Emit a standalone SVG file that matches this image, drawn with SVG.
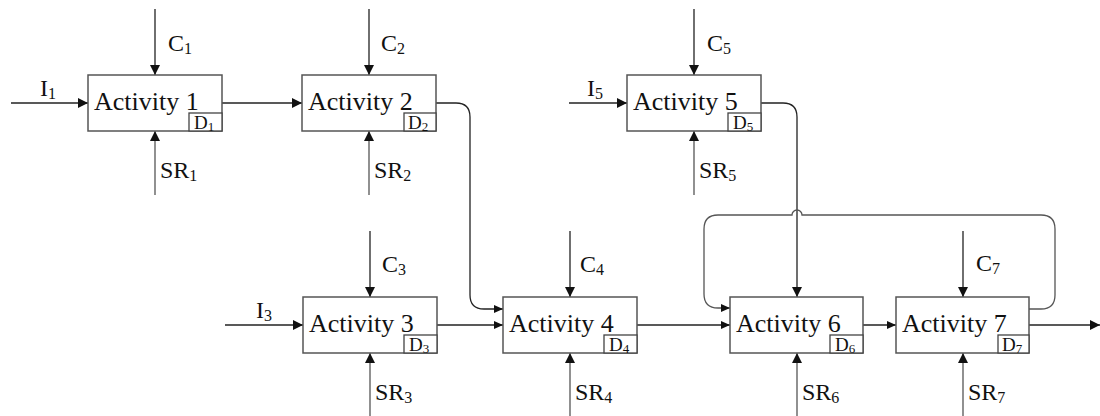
<svg xmlns="http://www.w3.org/2000/svg" width="1100" height="416" viewBox="0 0 1100 416">
<style>
.box{fill:#fff;stroke:#555;stroke-width:1.5}
.dbox{fill:#fff;stroke:#444;stroke-width:1.3}
.ln{fill:none;stroke:#222;stroke-width:1.3}
.lg{fill:none;stroke:#555;stroke-width:1.3}
.act{font-family:"Liberation Serif","Times New Roman",serif;font-size:26px;fill:#111}
.lbl{font-family:"Liberation Serif","Times New Roman",serif;font-size:24px;fill:#111}
.dl{font-family:"Liberation Serif","Times New Roman",serif;font-size:19px;fill:#111}
.sub{font-size:16px}
.dsub{font-size:13px}
</style>
<defs>
<marker id="arr" markerUnits="userSpaceOnUse" markerWidth="10" markerHeight="10" refX="10" refY="5" orient="auto">
<path d="M0,0 L10,5 L0,10 z" fill="#111"/>
</marker>
<marker id="arrS" markerUnits="userSpaceOnUse" markerWidth="9" markerHeight="8" refX="9" refY="4" orient="auto">
<path d="M0,0 L9,4 L0,8 z" fill="#111"/>
</marker>
</defs>

<g id="connectors">
<path class="ln" d="M11,103 H88" marker-end="url(#arr)"/>
<path class="ln" d="M225,325 H303" marker-end="url(#arr)"/>
<path class="ln" d="M569,103 H627" marker-end="url(#arr)"/>
<path class="ln" d="M222,103 H302" marker-end="url(#arr)"/>
<path class="ln" d="M436,103 H456 Q470,103 470,117 V295 Q470,309 484,309 H503" marker-end="url(#arrS)"/>
<path class="ln" d="M437,325 H503" marker-end="url(#arrS)"/>
<path class="ln" d="M637,325 H730" marker-end="url(#arrS)"/>
<path class="ln" d="M863,325 H896" marker-end="url(#arrS)"/>
<path class="ln" d="M1029,325 H1100" marker-end="url(#arr)"/>
<path class="ln" d="M761,103 H783 Q797,103 797,117 V297" marker-end="url(#arr)"/>
<path class="lg" d="M1029,309 H1041 Q1055,309 1055,295 V229 Q1055,215 1041,215 H802 A5,5 0 0 0 792,215 H718 Q704,215 704,229 V294 Q704,308 718,308 H730" marker-end="url(#arrS)"/>
<path class="ln" d="M155,9 V75" marker-end="url(#arr)"/>
<path class="ln" d="M369,9 V75" marker-end="url(#arr)"/>
<path class="ln" d="M694,9 V75" marker-end="url(#arr)"/>
<path class="ln" d="M370,231 V297" marker-end="url(#arr)"/>
<path class="ln" d="M570,231 V297" marker-end="url(#arr)"/>
<path class="ln" d="M963,231 V297" marker-end="url(#arr)"/>
<path class="lg" d="M155,195 V131" marker-end="url(#arr)"/>
<path class="lg" d="M369,195 V131" marker-end="url(#arr)"/>
<path class="lg" d="M694,195 V131" marker-end="url(#arr)"/>
<path class="lg" d="M370,416 V353" marker-end="url(#arr)"/>
<path class="lg" d="M570,416 V353" marker-end="url(#arr)"/>
<path class="lg" d="M797,416 V353" marker-end="url(#arr)"/>
<path class="lg" d="M963,416 V353" marker-end="url(#arr)"/>
</g>

<g id="labels">
<text class="lbl" x="40" y="96">I<tspan class="sub" dy="3">1</tspan></text>
<text class="lbl" x="256" y="318">I<tspan class="sub" dy="3">3</tspan></text>
<text class="lbl" x="587" y="96">I<tspan class="sub" dy="3">5</tspan></text>
<text class="lbl" x="168" y="51">C<tspan class="sub" dy="3">1</tspan></text>
<text class="lbl" x="381" y="51">C<tspan class="sub" dy="3">2</tspan></text>
<text class="lbl" x="707" y="51">C<tspan class="sub" dy="3">5</tspan></text>
<text class="lbl" x="382" y="272">C<tspan class="sub" dy="3">3</tspan></text>
<text class="lbl" x="580" y="272">C<tspan class="sub" dy="3">4</tspan></text>
<text class="lbl" x="976" y="271">C<tspan class="sub" dy="3">7</tspan></text>
<text class="lbl" x="160" y="178">SR<tspan class="sub" dy="3">1</tspan></text>
<text class="lbl" x="374" y="178">SR<tspan class="sub" dy="3">2</tspan></text>
<text class="lbl" x="699" y="178">SR<tspan class="sub" dy="3">5</tspan></text>
<text class="lbl" x="375" y="400">SR<tspan class="sub" dy="3">3</tspan></text>
<text class="lbl" x="575" y="400">SR<tspan class="sub" dy="3">4</tspan></text>
<text class="lbl" x="802" y="400">SR<tspan class="sub" dy="3">6</tspan></text>
<text class="lbl" x="968" y="400">SR<tspan class="sub" dy="3">7</tspan></text>
</g>

<g id="activity1">
<rect class="box" x="88" y="75" width="134" height="56"/>
<rect class="dbox" x="189" y="113" width="33" height="18"/>
<text class="act" x="94" y="110">Activity 1</text>
<text class="dl" x="194" y="129">D<tspan class="dsub" dy="2">1</tspan></text>
</g>
<g id="activity2">
<rect class="box" x="302" y="75" width="134" height="56"/>
<rect class="dbox" x="404" y="113" width="32" height="18"/>
<text class="act" x="308" y="110">Activity 2</text>
<text class="dl" x="408" y="129">D<tspan class="dsub" dy="2">2</tspan></text>
</g>
<g id="activity5">
<rect class="box" x="627" y="75" width="134" height="56"/>
<rect class="dbox" x="728" y="113" width="33" height="18"/>
<text class="act" x="633" y="110">Activity 5</text>
<text class="dl" x="733" y="129">D<tspan class="dsub" dy="2">5</tspan></text>
</g>
<g id="activity3">
<rect class="box" x="303" y="297" width="134" height="56"/>
<rect class="dbox" x="404" y="335" width="33" height="18"/>
<text class="act" x="309" y="332">Activity 3</text>
<text class="dl" x="409" y="351">D<tspan class="dsub" dy="2">3</tspan></text>
</g>
<g id="activity4">
<rect class="box" x="503" y="297" width="134" height="56"/>
<rect class="dbox" x="604" y="335" width="33" height="18"/>
<text class="act" x="509" y="332">Activity 4</text>
<text class="dl" x="609" y="351">D<tspan class="dsub" dy="2">4</tspan></text>
</g>
<g id="activity6">
<rect class="box" x="730" y="297" width="133" height="56"/>
<rect class="dbox" x="830" y="335" width="33" height="18"/>
<text class="act" x="736" y="332">Activity 6</text>
<text class="dl" x="835" y="351">D<tspan class="dsub" dy="2">6</tspan></text>
</g>
<g id="activity7">
<rect class="box" x="896" y="297" width="133" height="56"/>
<rect class="dbox" x="998" y="335" width="31" height="18"/>
<text class="act" x="902" y="332">Activity 7</text>
<text class="dl" x="1002" y="351">D<tspan class="dsub" dy="2">7</tspan></text>
</g>
</svg>
